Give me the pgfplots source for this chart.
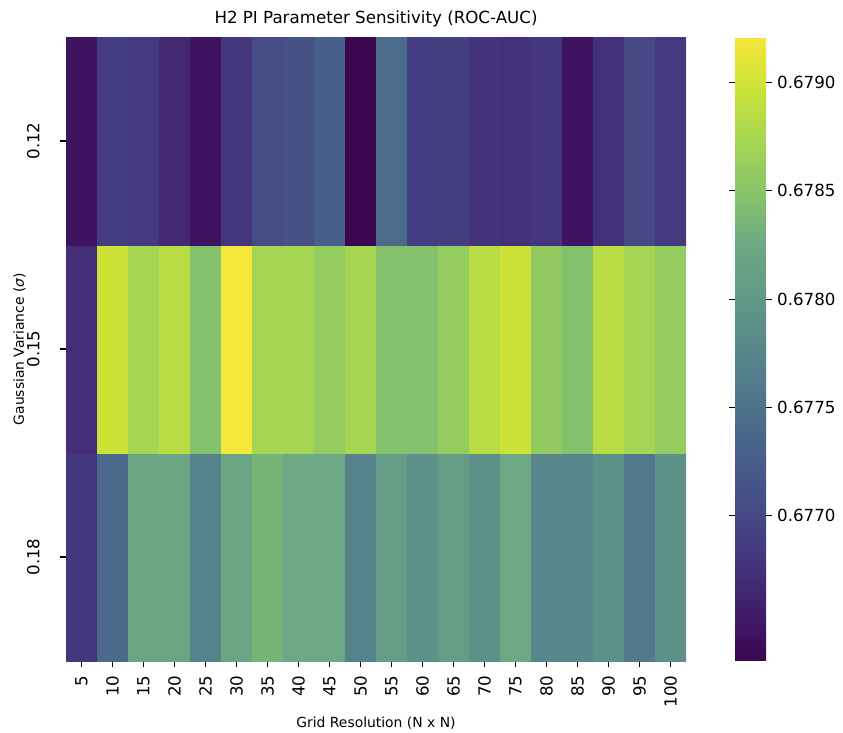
\documentclass[border=0pt]{standalone}
\usepackage{fontspec}
\setmainfont{DejaVu Sans}
\usepackage{pgfplots}
\pgfplotsset{compat=1.18}
\pgfplotsset{colormap={refviridis}{
  rgb255(0)=(58,6,80)
  rgb255(50)=(62,20,98)
  rgb255(180)=(69,58,128)
  rgb255(340)=(71,98,139)
  rgb255(500)=(87,135,139)
  rgb255(670)=(109,170,130)
  rgb255(740)=(132,193,108)
  rgb255(835)=(165,214,83)
  rgb255(920)=(205,226,54)
  rgb255(1000)=(245,230,58)
}}
\begin{document}
\begin{tikzpicture}[x=1pt,y=1pt]
\useasboundingbox (-47.52,-51.12) rectangle (559.44,475.92);
\begin{axis}[
  at={(0,0)}, anchor=south west,
  scale only axis, width=446.4pt, height=449.28pt,
  xmin=-0.5, xmax=19.5, ymin=-0.5, ymax=2.5,
  axis line style={draw=none},
  xtick={0,...,19},
  xticklabels={5,10,15,20,25,30,35,40,45,50,55,60,65,70,75,80,85,90,95,100},
  ytick={0,1,2}, yticklabels={0.18,0.15,0.12},
  xtick pos=bottom, ytick pos=left,
  tick align=outside,
  major tick length=4.5pt,
  tick style={black, line width=0.9pt},
  /pgf/number format/assume math mode=true,
  xticklabel style={yshift=-2.5pt, rotate=90, anchor=east, font=\fontsize{12}{14}\selectfont},
  yticklabel style={xshift=-11pt, rotate=90, anchor=south, font=\fontsize{12}{14}\selectfont},
  xlabel={Grid Resolution (N x N)},
  ylabel={Gaussian Variance (\textit{σ})},
  label style={font=\fontsize{10}{12}\selectfont},
  ylabel style={yshift=-6pt},
  title={H2 PI Parameter Sensitivity (ROC-AUC)},
  title style={font=\fontsize{12}{14}\selectfont, yshift=-2pt},
  colormap name=refviridis,
  point meta min=0.67633, point meta max=0.67921,
  colorbar,
  colorbar/width=22.32pt,
  colorbar style={
    at={(parent axis.north east)}, anchor=north west,
    xshift=26.74pt,
    axis line style={draw=none},
    scaled y ticks=false,
    ytick={0.677,0.6775,0.678,0.6785,0.679},
    yticklabel pos=right,
    tick align=outside,
    major tick length=4.5pt,
    tick style={black, line width=0.9pt},
    yticklabel style={font=\fontsize{12}{14}\selectfont,
      /pgf/number format/.cd, fixed, fixed zerofill, precision=4, assume math mode=true},
  },
]
\addplot[matrix plot*, mesh/cols=20, point meta=explicit] table[meta=c] {
x y c
0 0 0.67682
1 0 0.67740
2 0 0.67820
3 0 0.67820
4 0 0.67771
5 0 0.67820
6 0 0.67835
7 0 0.67823
8 0 0.67823
9 0 0.67771
10 0 0.67806
11 0 0.67789
12 0 0.67806
13 0 0.67791
14 0 0.67823
15 0 0.67777
16 0 0.67777
17 0 0.67791
18 0 0.67760
19 0 0.67791
0 1 0.67673
1 1 0.67898
2 1 0.67873
3 1 0.67886
4 1 0.67846
5 1 0.67921
6 1 0.67873
7 1 0.67873
8 1 0.67860
9 1 0.67873
10 1 0.67846
11 1 0.67846
12 1 0.67860
13 1 0.67886
14 1 0.67898
15 1 0.67858
16 1 0.67846
17 1 0.67886
18 1 0.67873
19 1 0.67860
0 2 0.67647
1 2 0.67688
2 2 0.67685
3 2 0.67668
4 2 0.67647
5 2 0.67682
6 2 0.67705
7 2 0.67711
8 2 0.67728
9 2 0.67633
10 2 0.67742
11 2 0.67688
12 2 0.67691
13 2 0.67679
14 2 0.67676
15 2 0.67682
16 2 0.67647
17 2 0.67676
18 2 0.67702
19 2 0.67685
};
\end{axis}
\end{tikzpicture}
\end{document}
